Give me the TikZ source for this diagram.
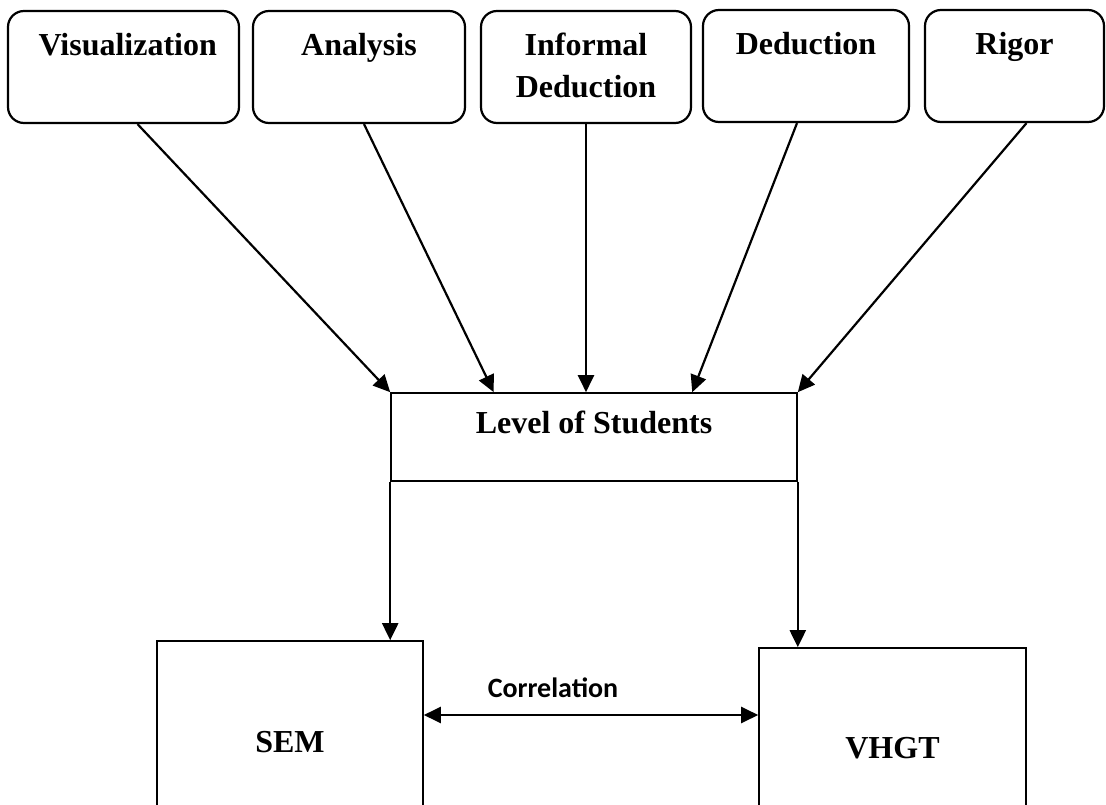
\documentclass[tikz,border=0pt]{standalone}
\usepackage{fontspec}
\setmainfont{Liberation Serif}
\newfontfamily\corrfont{Carlito}
\usetikzlibrary{arrows.meta, calc}

\tikzset{
  stage/.style={draw, rounded corners=16pt, line width=2.2pt, inner sep=0pt, minimum height=112pt,
    font=\fontsize{32}{42}\selectfont\bfseries,
    execute at begin node={\begin{minipage}[c][112pt][t]{170pt}\centering\vspace*{22pt}},
    execute at end node={\end{minipage}}},
  plainbox/.style={draw, line width=1.6pt, inner sep=0pt, font=\fontsize{32}{38}\selectfont\bfseries},
  arr/.style={line width=2.2pt, -{Triangle[length=17pt,width=16pt]}}
}

\begin{document}
\begin{tikzpicture}[x=1pt, y=-1pt]
    \useasboundingbox (0,0) rectangle (1106,805);
    \clip (0,0) rectangle (1106,805);
    % van Hiele levels
    \node[stage, minimum width=231pt] (vis) at (123.5,67) {Visualization};
    \node[stage, minimum width=212pt] (ana) at (359,67) {Analysis};
    \node[stage, minimum width=210pt] (inf) at (586,67) {Informal\\Deduction};
    \node[stage, minimum width=206pt] (ded) at (806,66) {Deduction};
    \node[stage, minimum width=179pt] (rig) at (1014.5,66) {Rigor};
    \node[plainbox, minimum width=406pt, text height=40pt, text depth=48pt] (level) at (594,437) {Level of Students};
    \node[plainbox, minimum width=266pt, text height=111pt, text depth=88pt] (sem) at (290,740.5) {SEM};
    \node[plainbox, minimum width=267pt, text height=110pt, text depth=82pt] (vhgt) at (892.5,744) {VHGT};
    \node[font=\corrfont\bfseries\fontsize{28}{32}\selectfont] (corrtext) at (553,688) {Correlation};
    \coordinate (corr) at (591,715);
    % connectors
    \draw[arr] ([xshift=14pt]vis.south) -- (level.north west);
    \draw[arr] ([xshift=5pt]ana.south) -- ($(level.north west)!.254!(level.north east)$);
    \draw[arr] (inf.south) -- (inf.south |- level.north);
    \draw[arr] ([xshift=-9pt]ded.south) -- ($(level.north west)!.741!(level.north east)$);
    \draw[arr] ([xshift=12pt]rig.south) -- (level.north east);
    \draw[arr] (level.south west) -- (level.south west |- sem.north);
    \draw[arr] (level.south east) -- (level.south east |- vhgt.north);
    \draw[arr, {Triangle[length=17pt,width=16pt]}-{Triangle[length=17pt,width=16pt]}] (sem.east |- corr) -- (vhgt.west |- corr);
\end{tikzpicture}
\end{document}
